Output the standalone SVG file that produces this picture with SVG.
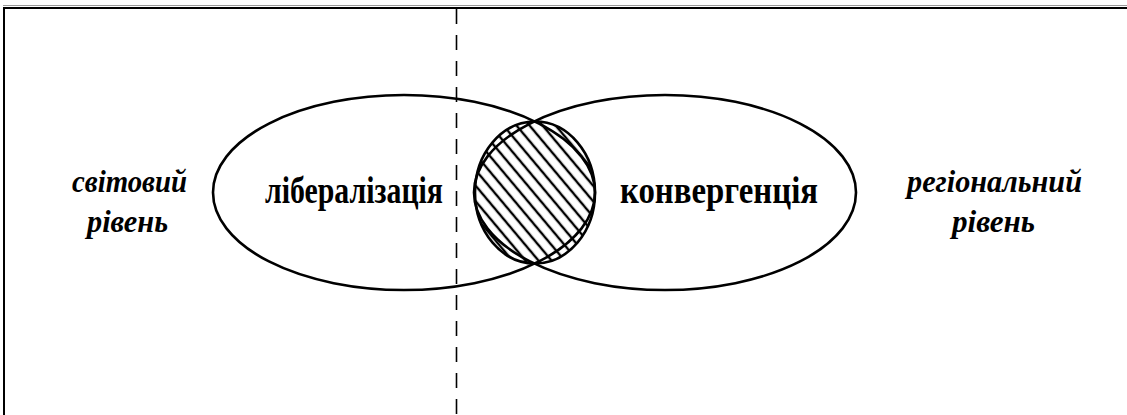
<svg xmlns="http://www.w3.org/2000/svg" width="1127" height="415" viewBox="0 0 1127 415" font-family="Liberation Serif" font-weight="bold">
  <style>
    .frame { stroke: #000; stroke-width: 2; fill: none; }
    .set { stroke: #000; stroke-width: 2.6; fill: none; }
    .divider { stroke: #000; stroke-width: 1.6; stroke-dasharray: 15 11; fill: none; }
    .label { font-size: 37px; fill: #000; }
    .level { font-style: italic; font-size: 32px; fill: #000; }
  </style>
  <defs>
    <pattern id="hatch" patternUnits="userSpaceOnUse" width="10" height="10" patternTransform="rotate(-40)">
      <line x1="5" y1="-2" x2="5" y2="12" stroke="#000" stroke-width="2.4"/>
    </pattern>
  </defs>
  <rect width="1127" height="415" fill="#fff"/>
  <g id="frame">
    <line x1="3" y1="5.5" x2="1127" y2="5.5" stroke="#999" stroke-width="1"/>
    <line class="frame" x1="3" y1="8" x2="1127" y2="8"/>
    <line class="frame" x1="4" y1="7" x2="4" y2="415"/>
  </g>
  <g id="connectors">
    <line class="divider" x1="456.5" y1="9" x2="456.5" y2="415"/>
  </g>
  <g id="node-liberalization">
    <ellipse class="set" cx="404" cy="192.5" rx="191" ry="97.5"/>
    <text class="label" x="354" y="203" text-anchor="middle" textLength="178" lengthAdjust="spacingAndGlyphs">лібералізація</text>
  </g>
  <g id="node-convergence">
    <ellipse class="set" cx="665" cy="192.5" rx="191" ry="97.5"/>
    <text class="label" x="719" y="203" text-anchor="middle" textLength="198" lengthAdjust="spacingAndGlyphs">конвергенція</text>
  </g>
  <g id="node-intersection">
    <ellipse cx="535" cy="192.5" rx="60" ry="71" fill="url(#hatch)" stroke="#000" stroke-width="2.6"/>
  </g>
  <g id="node-global">
    <text class="level" x="129.5" y="192" text-anchor="middle" textLength="115" lengthAdjust="spacingAndGlyphs">світовий</text>
    <text class="level" x="127.5" y="232" text-anchor="middle" textLength="81" lengthAdjust="spacingAndGlyphs">рівень</text>
  </g>
  <g id="node-regional">
    <text class="level" x="994.5" y="192" text-anchor="middle" textLength="175" lengthAdjust="spacingAndGlyphs">регіональний</text>
    <text class="level" x="993.5" y="232" text-anchor="middle" textLength="83" lengthAdjust="spacingAndGlyphs">рівень</text>
  </g>
</svg>
